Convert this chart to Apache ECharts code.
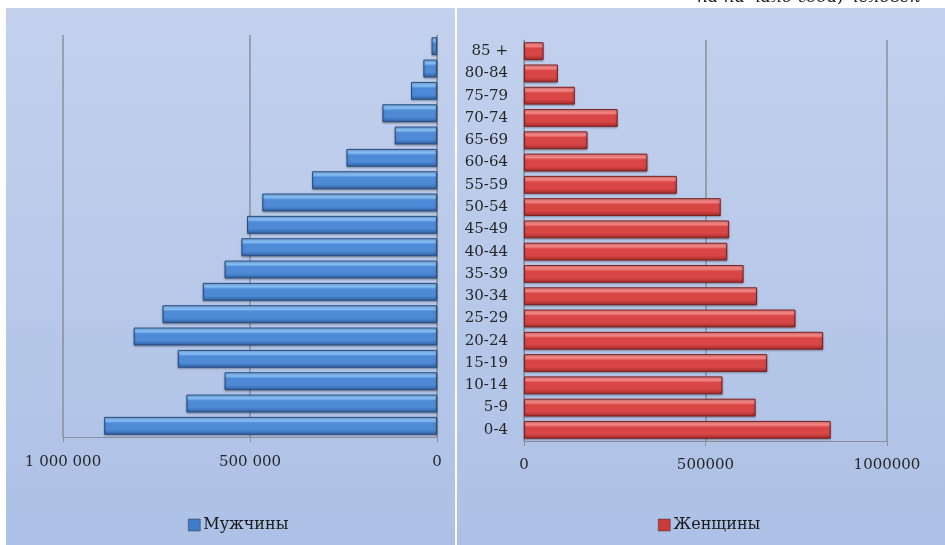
<!DOCTYPE html>
<html>
<head>
<meta charset="utf-8">
<script src="https://cdn.jsdelivr.net/npm/echarts@6/dist/echarts.min.js"></script>
<style>
    html, body { margin: 0; padding: 0; background: #fff; }
    #grafico { width: 945px; height: 545px; }
</style>
</head>
<body>
<div id="grafico" data-grafico></div>
<script>
const idades = ['0-4', '5-9', '10-14', '15-19', '20-24', '25-29', '30-34', '35-39', '40-44',
    '45-49', '50-54', '55-59', '60-64', '65-69', '70-74', '75-79', '80-84', '85 +']
const homens = [890000, 670000, 568000, 693000, 811000, 734000, 626000, 568000, 523000,
    508000, 467000, 334000, 242000, 113000, 146000, 69500, 36500, 14500]
const mulheres = [845000, 638000, 547000, 670000, 824000, 748000, 642000, 605000, 560000,
    565000, 542000, 421000, 340000, 175000, 258000, 140000, 93500, 54000]
const ticksHomens = ['1 000 000', '500 000', '0']
const nomes = ['Мужчины', 'Женщины']

const fonte = '"DejaVu Serif", "Liberation Serif", serif'

const degrade = (claro, meio, escuro) => ({
    type: 'linear', x: 0, y: 0, x2: 0, y2: 1,
    colorStops: [
        { offset: 0, color: claro },
        { offset: 0.22, color: claro },
        { offset: 0.35, color: meio },
        { offset: 0.72, color: meio },
        { offset: 1, color: escuro }
    ]
})

const fundo = {
    type: 'linear', x: 0, y: 0, x2: 0, y2: 1,
    colorStops: [{ offset: 0, color: '#c3d1ed' }, { offset: 1, color: '#adc1e6' }]
}

const gerarGrafico = () => {
    const dom = document.querySelector('[data-grafico]')
    const myChart = echarts.init(dom, null, { renderer: 'canvas' })

    const eixoX = (inverso, rotulo, margem) => ({
        type: 'value',
        inverse: inverso,
        min: 0,
        max: 1000000,
        interval: 500000,
        axisLine: { show: true, lineStyle: { color: '#8a8f99', width: 1 } },
        axisTick: { show: true, length: 5, lineStyle: { color: '#8a8f99' } },
        splitLine: { show: true, lineStyle: { color: '#8a8f99', width: 1.5 } },
        axisLabel: {
            formatter: rotulo,
            color: '#262626',
            fontFamily: fonte,
            fontSize: 15,
            margin: margem
        }
    })

    const legenda = (nome, esquerda, cor) => ({
        data: [nome], left: esquerda, top: 512, icon: 'rect', itemWidth: 12, itemHeight: 12, itemGap: 4,
        itemStyle: { color: cor, borderColor: '#3a3a3a', borderWidth: 0.5, shadowBlur: 0, shadowOffsetY: 0 },
        textStyle: { fontFamily: fonte, fontSize: 16, color: '#1a1a1a', padding: [0, 0, 0, -2] }
    })

    const option = {
        backgroundColor: '#ffffff',
        animation: false,
        graphic: [
            { type: 'rect', z: -10, shape: { x: 6, y: 8, width: 449, height: 537 }, style: { fill: fundo } },
            { type: 'rect', z: -10, shape: { x: 457, y: 8, width: 488, height: 537 }, style: { fill: fundo } },
            {
                type: 'text', z: -5, left: 697, top: -11,
                style: { text: 'на на чало года, человек', font: 'italic 17px ' + fonte, fill: '#1a1a1a' }
            }
        ],
        legend: [legenda(nomes[0], 183, '#3f7cc8'), legenda(nomes[1], 653, '#cc3a3a')],
        grid: [
            { left: 63, right: 508, top: 35, bottom: 108 },
            { left: 524, right: 58, top: 40, bottom: 104 }
        ],
        xAxis: [
            { ...eixoX(true, (v) => ticksHomens[2 - v / 500000], 18), gridIndex: 0 },
            { ...eixoX(false, (v) => String(v), 17), gridIndex: 1 }
        ],
        yAxis: [
            {
                type: 'category', gridIndex: 0, position: 'right', data: idades,
                axisLine: { show: true, lineStyle: { color: '#8a8f99' } },
                axisTick: { show: false },
                axisLabel: { show: false }
            },
            {
                type: 'category', gridIndex: 1, position: 'left', data: idades,
                axisLine: { show: true, lineStyle: { color: '#8a8f99' } },
                axisTick: { show: false },
                axisLabel: { color: '#262626', fontFamily: fonte, fontSize: 15, margin: 16 }
            }
        ],
        series: [
            {
                name: nomes[0], type: 'bar', xAxisIndex: 0, yAxisIndex: 0, data: homens,
                barCategoryGap: '20%',
                itemStyle: {
                    color: degrade('#85bdf5', '#4f8ad6', '#2d5f9f'),
                    borderColor: '#2a4f84', borderWidth: 1,
                    shadowColor: 'rgba(0,0,0,0.3)', shadowBlur: 2, shadowOffsetY: 1
                }
            },
            {
                name: nomes[1], type: 'bar', xAxisIndex: 1, yAxisIndex: 1, data: mulheres,
                barCategoryGap: '20%',
                itemStyle: {
                    color: degrade('#f58585', '#d84646', '#a12a2a'),
                    borderColor: '#7d2222', borderWidth: 1,
                    shadowColor: 'rgba(0,0,0,0.3)', shadowBlur: 2, shadowOffsetY: 1
                }
            }
        ]
    }

    myChart.setOption(option)
}
gerarGrafico()
</script>
</body>
</html>
